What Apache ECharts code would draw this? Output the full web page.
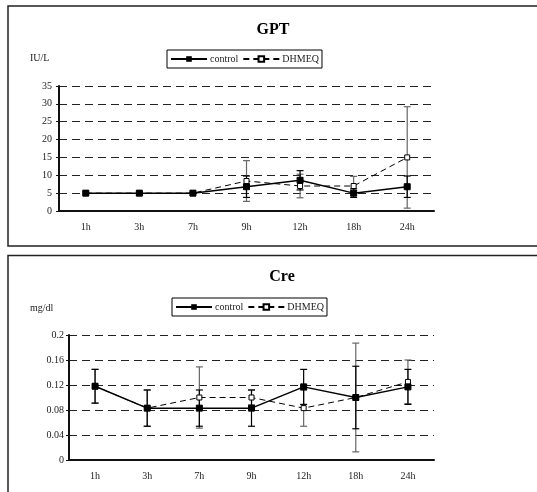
<!DOCTYPE html>
<html>
<head>
<meta charset="utf-8">
<script src="https://cdn.jsdelivr.net/npm/echarts@6/dist/echarts.min.js"></script>
<style>
  html, body { margin: 0; padding: 0; background: #fff; }
  #chart { width: 537px; height: 492px; }
</style>
</head>
<body>
<div id="chart"></div>
<script>
// time points shared by both panels
const hours = ['1h', '3h', '7h', '9h', '12h', '18h', '24h'];

// GPT (IU/L)
const gptControl = [5, 5, 5, 6.8, 8.6, 5, 6.8];
const gptControlSd = [0, 0, 0, 3.0, 2.7, 1.2, 3.0];
const gptDhmeq = [5, 5, 5, 8.4, 7.0, 7.0, 15.0];
const gptDhmeqSd = [0, 0, 0, 5.7, 3.3, 2.7, 14.2];
const gptTicks = [0, 35, 5];

// Cre (mg/dl)
const creControl = [0.118, 0.083, 0.083, 0.083, 0.117, 0.1, 0.117];
const creControlSd = [0.027, 0.029, 0.029, 0.029, 0.028, 0.05, 0.028];
const creDhmeq = [0.118, 0.083, 0.1, 0.1, 0.083, 0.1, 0.125];
const creDhmeqSd = [0.027, 0.029, 0.049, 0.012, 0.029, 0.087, 0.035];
const creTicks = [0, 0.2, 0.04];

const FONT = '"Liberation Serif", "Times New Roman", serif';

const chart = echarts.init(document.getElementById('chart'));

// error bar data: [categoryIndex, low, high, sd]
const errData = (means, sds) => means.map((m, i) => [i, m - sds[i], m + sds[i], sds[i]]);

const errBar = (color) => (params, api) => {
  if (api.value(3) === 0) return null;
  const lo = api.coord([api.value(0), api.value(1)]);
  const hi = api.coord([api.value(0), api.value(2)]);
  const w = 3.5;
  const style = { stroke: color, lineWidth: 1.2 };
  return {
    type: 'group',
    children: [
      { type: 'line', shape: { x1: lo[0], y1: lo[1], x2: hi[0], y2: hi[1] }, style },
      { type: 'line', shape: { x1: lo[0] - w, y1: lo[1], x2: lo[0] + w, y2: lo[1] }, style },
      { type: 'line', shape: { x1: hi[0] - w, y1: hi[1], x2: hi[0] + w, y2: hi[1] }, style }
    ]
  };
};

const xAxisCommon = (gridIndex) => ({
  type: 'category',
  gridIndex,
  data: hours,
  boundaryGap: true,
  axisLine: { lineStyle: { color: '#111', width: 2 } },
  axisTick: { show: false },
  axisLabel: { color: '#222', fontFamily: FONT, fontSize: 10, margin: 11 }
});

const yAxisCommon = (gridIndex, ticks, margin) => ({
  type: 'value',
  gridIndex,
  min: ticks[0],
  max: ticks[1],
  interval: ticks[2],
  axisLine: { show: true, lineStyle: { color: '#111', width: 2 } },
  axisTick: { show: true, length: 3, lineStyle: { color: '#111' } },
  axisLabel: { color: '#222', fontFamily: FONT, fontSize: 10, margin },
  splitLine: { lineStyle: { color: '#222', type: [8, 5], width: 1 } }
});

const controlLine = (xi, data) => ({
  name: 'control',
  type: 'line',
  xAxisIndex: xi,
  yAxisIndex: xi,
  data,
  z: 5,
  symbol: 'rect',
  symbolSize: 6,
  lineStyle: { color: '#000', width: 1.5 },
  itemStyle: { color: '#000', borderColor: '#000' }
});

const dhmeqLine = (xi, data) => ({
  name: 'DHMEQ',
  type: 'line',
  xAxisIndex: xi,
  yAxisIndex: xi,
  data,
  z: 4,
  symbol: 'rect',
  symbolSize: 5,
  lineStyle: { color: '#000', width: 1, type: [6, 4] },
  itemStyle: { color: '#fff', borderColor: '#000', borderWidth: 1 }
});

const errSeries = (xi, means, sds, color) => ({
  type: 'custom',
  xAxisIndex: xi,
  yAxisIndex: xi,
  data: errData(means, sds),
  renderItem: errBar(color),
  z: 3,
  silent: true
});

const legendCommon = (top, left) => ({
  top,
  left,
  data: ['control', 'DHMEQ'],
  itemWidth: 36,
  itemHeight: 7,
  itemGap: 4,
  padding: [4, 3, 4, 3],
  borderColor: '#000',
  borderWidth: 1,
  textStyle: { color: '#222', fontFamily: FONT, fontSize: 10, padding: [0, 0, 0, -2] }
});

chart.setOption({
  animation: false,
  backgroundColor: '#fff',
  title: [
    { text: 'GPT', left: 268, top: 17, textAlign: 'center',
      textStyle: { fontFamily: FONT, fontSize: 16, fontWeight: 'bold', color: '#000' } },
    { text: 'Cre', left: 277, top: 264, textAlign: 'center',
      textStyle: { fontFamily: FONT, fontSize: 16, fontWeight: 'bold', color: '#000' } }
  ],
  legend: [
    { ...legendCommon(50, 167) },
    { ...legendCommon(298, 172) }
  ],
  grid: [
    { left: 59, top: 86, width: 375, height: 125 },
    { left: 69, top: 335, width: 365, height: 125 }
  ],
  xAxis: [xAxisCommon(0), xAxisCommon(1)],
  yAxis: [yAxisCommon(0, gptTicks, 7), yAxisCommon(1, creTicks, 5)],
  graphic: [
    { type: 'rect', shape: { x: 8, y: 6, width: 560, height: 240 },
      style: { fill: 'none', stroke: '#222', lineWidth: 1.5 } },
    { type: 'rect', shape: { x: 8, y: 255.5, width: 560, height: 260 },
      style: { fill: 'none', stroke: '#222', lineWidth: 1.5 } },
    { type: 'text', left: 30, top: 53,
      style: { text: 'IU/L', fontFamily: FONT, fontSize: 10, fill: '#222' } },
    { type: 'text', left: 30, top: 303,
      style: { text: 'mg/dl', fontFamily: FONT, fontSize: 10, fill: '#222' } }
  ],
  series: [
    controlLine(0, gptControl),
    dhmeqLine(0, gptDhmeq),
    errSeries(0, gptDhmeq, gptDhmeqSd, '#666'),
    errSeries(0, gptControl, gptControlSd, '#000'),
    controlLine(1, creControl),
    dhmeqLine(1, creDhmeq),
    errSeries(1, creDhmeq, creDhmeqSd, '#666'),
    errSeries(1, creControl, creControlSd, '#000')
  ]
});
</script>
</body>
</html>
